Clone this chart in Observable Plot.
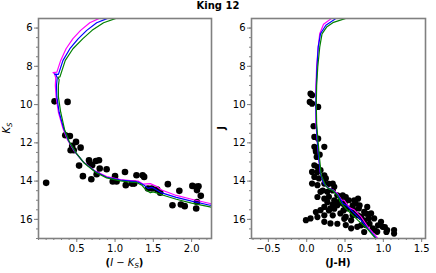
<!DOCTYPE html>
<html><head><meta charset="utf-8">
<script src="https://cdn.jsdelivr.net/npm/d3@7"></script>
<script src="https://cdn.jsdelivr.net/npm/@observablehq/plot@0.6"></script>
<style>
body{margin:0;background:#fff;}
#wrap{position:relative;width:436px;height:273px;font-family:"DejaVu Sans",sans-serif;}
#title{position:absolute;left:0;width:436px;top:0px;text-align:center;font-weight:bold;font-size:10px;line-height:12px;}
.panel{position:absolute;top:0;}
</style></head><body>
<div id="wrap"><div id="title">King 12</div></div>
<script>
// ---------- Left panel: (I-Ks) vs Ks ----------
const leftIK = [0.21,0.38,0.10,0.35,0.41,0.49,0.44,0.55,0.42,0.46,0.53,0.58,0.66,0.67,0.79,0.75,0.70,0.80,0.89,0.76,0.69,1.00,0.97,1.02,1.13,1.14,1.22,1.25,1.28,1.36,1.38,1.43,1.48,1.55,1.59,1.69,1.75,1.84,1.86,1.91,2.01,2.06,2.09,2.07,2.12,2.07,2.06];
const leftKs = [9.83,9.86,14.09,11.60,11.64,11.95,12.16,12.25,12.39,12.39,13.19,13.74,12.91,13.08,12.91,12.95,13.17,13.34,13.38,13.64,13.90,13.74,14.02,14.02,13.52,14.21,14.13,14.13,13.69,13.69,13.78,14.39,14.39,14.44,14.61,14.16,15.26,14.51,15.22,15.31,14.25,14.30,14.27,14.47,14.77,15.09,15.43];

// isochrones (left)
const isoLMagX = [2.32,2.24,2.00,1.80,1.60,1.54,1.46,1.37,1.30,1.20,1.07,0.89,0.73,0.58,0.47,0.38,0.32,0.26,0.23,0.22,0.225,0.21,0.19,0.24,0.29,0.36,0.45,0.55,0.67,0.80,0.88];
const isoLMagY = [15.24,15.17,14.95,14.75,14.45,14.27,14.13,14.16,14.00,13.97,13.92,13.76,13.45,12.98,12.45,11.85,11.25,10.40,9.60,9.00,8.60,8.40,8.33,8.30,7.69,7.08,6.55,6.12,5.72,5.48,5.35];
const isoLBluX = [2.32,2.24,2.00,1.80,1.60,1.50,1.48,1.43,1.38,1.30,1.20,1.07,0.89,0.74,0.59,0.48,0.39,0.33,0.27,0.24,0.235,0.245,0.23,0.21,0.26,0.32,0.41,0.52,0.63,0.76,0.91,1.00];
const isoLBluY = [15.32,15.26,15.05,14.85,14.60,14.36,14.33,14.38,14.22,14.05,14.00,13.95,13.80,13.50,13.02,12.48,11.88,11.27,10.40,9.60,9.00,8.60,8.45,8.40,8.42,7.69,7.08,6.55,6.12,5.72,5.48,5.35];
const isoLGrnX = [2.32,2.24,2.00,1.80,1.63,1.50,1.46,1.40,1.35,1.28,1.20,1.07,0.89,0.75,0.60,0.49,0.40,0.34,0.29,0.26,0.26,0.27,0.255,0.28,0.35,0.45,0.58,0.70,0.85,1.02,1.12];
const isoLGrnY = [15.42,15.35,15.15,14.95,14.74,14.56,14.61,14.45,14.21,14.07,14.05,13.99,13.83,13.55,13.07,12.52,11.92,11.30,10.40,9.60,9.00,8.70,8.58,8.55,7.69,7.08,6.55,6.12,5.72,5.48,5.35];

// ---------- Right panel: (J-H) vs J ----------
const rightJH = [0.05,0.07,0.04,0.07,0.15,0.09,0.10,0.15,0.23,0.10,0.12,
  0.12,0.13,0.10,0.14,0.07,0.18,0.10,0.16,0.25,0.07,0.14,0.23,0.34,0.36,0.18,0.27,0.40,0.51,0.55,0.64,0.68,0.79,0.23,0.18,0.31,0.44,0.51,0.60,0.71,0.81,0.88,0.97,0.99,1.05,1.14,1.14,-0.01,0.05,0.23,0.31,0.51,0.58,0.66,0.77,0.86,0.92,0.40,0.47,0.53,0.62,0.75,0.84,0.36,0.44,0.29,
  0.17,0.14,0.23,0.29,0.14,0.23,0.38,0.47,0.50,0.60,0.62,0.67,0.48,0.69,0.36,0.29,0.12,0.23,0.34,0.67,0.78,0.75,0.58,0.49,0.40,0.14,0.71,0.82,0.93,1.02,1.04,0.89,0.75,0.60,0.49,0.34,0.27,0.34,0.21];
const rightJ = [9.43,9.51,9.86,9.95,10.12,11.13,11.69,11.78,12.21,12.21,12.39,
  12.47,12.74,13.17,13.26,13.52,13.43,13.78,13.86,13.86,14.13,14.21,14.13,14.13,14.30,14.56,14.56,14.74,14.83,15.00,15.17,15.43,15.35,15.35,15.52,15.43,15.69,15.87,15.78,15.87,15.95,15.95,16.13,16.39,16.56,16.56,16.74,16.04,15.95,16.13,16.21,16.30,16.47,16.39,16.30,16.47,16.65,15.26,15.17,15.43,15.52,15.61,15.69,15.00,15.00,14.82,
  12.62,13.53,13.70,14.14,14.83,14.92,15.10,14.75,15.27,15.27,15.00,14.92,15.53,15.27,15.44,15.53,15.62,15.79,15.79,15.79,15.70,16.05,16.05,15.97,16.23,15.88,16.31,16.23,16.31,16.40,16.66,16.57,16.66,15.62,15.10,15.22,15.10,14.49,14.49];

const isoRMagX = [0.94,0.92,0.80,0.71,0.62,0.56,0.49,0.46,0.44,0.40,0.34,0.28,0.22,0.18,0.16,0.14,0.12,0.12,0.12,0.13,0.15,0.17,0.22,0.33,0.40];
const isoRMagY = [17.10,16.95,16.40,15.87,15.50,15.40,15.00,15.00,14.90,14.65,14.45,14.35,14.10,13.60,12.90,12.00,11.00,10.00,9.10,8.00,7.00,6.30,5.80,5.48,5.40];
const isoRBluX = [0.93,0.91,0.79,0.69,0.58,0.52,0.47,0.45,0.41,0.34,0.28,0.22,0.18,0.16,0.14,0.125,0.12,0.125,0.135,0.15,0.18,0.25,0.39,0.46];
const isoRBluY = [17.10,17.00,16.45,15.95,15.52,15.28,15.17,15.00,14.75,14.47,14.36,14.12,13.62,12.90,12.00,11.00,10.00,9.00,8.00,7.00,6.30,5.85,5.48,5.40];
const isoRGrnX = [0.92,0.90,0.78,0.67,0.58,0.51,0.46,0.44,0.40,0.34,0.28,0.25,0.19,0.17,0.15,0.13,0.125,0.13,0.145,0.17,0.20,0.26,0.35,0.52,0.60];
const isoRGrnY = [17.10,17.00,16.45,16.05,15.70,15.43,15.20,15.10,14.75,14.49,14.38,14.25,13.70,12.90,12.00,11.00,10.00,9.00,8.00,7.00,6.30,5.95,5.70,5.48,5.42];

const yTicks = [6,8,10,12,14,16];
const leftXTicks = [0.5,1.0,1.5,2.0];
const rightXTicks = [-0.5,0.0,0.5,1.0,1.5];

const zipPts = (xs, ys) => xs.map((x,i)=>({x, y: ys[i]}));
const FRAME = "#808080";

function panel(opts){
  const {width, marginLeft, marginRight, xDomain, xTicks, pts, curves, r} = opts;
  const xMinor = d3.range(Math.ceil(xDomain[0]*10), Math.floor(xDomain[1]*10)+1).map(d=>d/10);
  const yMinor = d3.range(6, 17.01, 0.5);
  const marks = [
    Plot.dot(pts, {x:"x", y:"y", r, fill:"black", stroke:"none"}),
    ...curves.map(c => Plot.line(c.data, {x:"x", y:"y", stroke:c.color, strokeWidth:1.2, clip:true})),
    Plot.axisX({ticks: xMinor, tickSize: 2, tickFormat: () => "", stroke: FRAME, label:null}),
    Plot.axisY({ticks: yMinor, tickSize: 2, tickFormat: () => "", stroke: FRAME, label:null}),
    Plot.axisX({ticks: xTicks, tickSize: 4, tickPadding: 2, tickFormat: d3.format(".1f"), stroke: FRAME, fill:"black", fontSize: 10, label:null}),
    Plot.axisY({ticks: yTicks, tickSize: 4, tickPadding: 2, tickFormat: d3.format("d"), stroke: FRAME, fill:"black", fontSize: 10, label:null}),
    Plot.frame({stroke: FRAME, strokeWidth: 1.6})
  ];
  return Plot.plot({
    width, height: 273, marginLeft, marginRight, marginTop: 18, marginBottom: 35,
    style: {fontFamily: '"DejaVu Sans", sans-serif', fontSize: "10px", background: "transparent", color: "black"},
    x: {domain: xDomain},
    y: {domain: [5.5, 17], reverse: true},
    marks
  });
}

const wrap = document.getElementById("wrap");

const left = panel({
  width: 216, marginLeft: 38, marginRight: 5, xDomain: [0, 2.26], xTicks: leftXTicks, r: 3.3,
  pts: zipPts(leftIK, leftKs),
  curves: [
    {color:"#ff00ff", data: zipPts(isoLMagX, isoLMagY)},
    {color:"#0000ff", data: zipPts(isoLBluX, isoLBluY)},
    {color:"#008000", data: zipPts(isoLGrnX, isoLGrnY)}
  ]
});
left.classList.add("panel"); left.style.left = "0px";
wrap.appendChild(left);

const right = panel({
  width: 220, marginLeft: 35, marginRight: 11, xDomain: [-0.72, 1.55], xTicks: rightXTicks, r: 3.1,
  pts: zipPts(rightJH, rightJ),
  curves: [
    {color:"#ff00ff", data: zipPts(isoRMagX, isoRMagY)},
    {color:"#0000ff", data: zipPts(isoRBluX, isoRBluY)},
    {color:"#008000", data: zipPts(isoRGrnX, isoRGrnY)}
  ]
});
right.classList.add("panel"); right.style.left = "216px";
wrap.appendChild(right);

// Axis labels
const ls = d3.select(left);
const xl = ls.append("text").attr("x", 124.5).attr("y", 266).attr("text-anchor","middle")
  .attr("font-size", 10).attr("fill","black");
xl.append("tspan").attr("font-weight","bold").text("(");
xl.append("tspan").attr("font-style","italic").text("I");
xl.append("tspan").text(" \u2212 ");
xl.append("tspan").attr("font-style","italic").text("K");
xl.append("tspan").attr("font-style","italic").attr("font-size",7).attr("dy",2).text("S");
xl.append("tspan").attr("font-weight","bold").attr("dy",-2).text(")");

const yl = ls.append("text").attr("transform","translate(10,128) rotate(-90)").attr("text-anchor","middle")
  .attr("font-size", 10).attr("fill","black");
yl.append("tspan").attr("font-style","italic").text("K");
yl.append("tspan").attr("font-style","italic").attr("font-size",7).attr("dy",2).text("S");

const rs = d3.select(right);
rs.append("text").attr("x", 122).attr("y", 266).attr("text-anchor","middle")
  .attr("font-size", 10).attr("font-weight","bold").attr("fill","black").text("(J-H)");
rs.append("text").attr("transform","translate(9,128) rotate(-90)").attr("text-anchor","middle")
  .attr("font-size", 10).attr("font-weight","bold").attr("fill","black").text("J");
</script>
</body></html>
